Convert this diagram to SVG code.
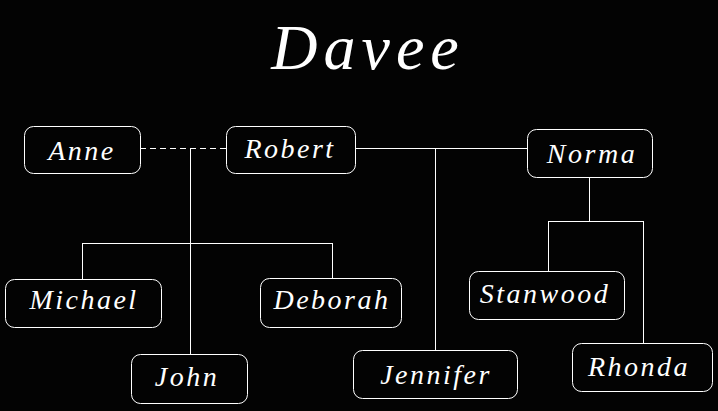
<svg xmlns="http://www.w3.org/2000/svg" width="718" height="411" viewBox="0 0 718 411">
<style>
.box{fill:none;stroke:#fff;stroke-width:1}
.lbl{fill:#fff;font-family:"Liberation Serif",serif;font-style:italic;font-size:28px;letter-spacing:2.5px;text-anchor:middle;dominant-baseline:central}
.ln{fill:none;stroke:#fff;stroke-width:1;shape-rendering:crispEdges}
.title{fill:#fff;font-family:"Liberation Serif",serif;font-style:italic;font-size:64px;letter-spacing:6px;text-anchor:middle}
</style>
<rect width="718" height="411" fill="#030303"/>
<text class="title" x="368" y="69">Davee</text>
<g id="connectors">
<line class="ln" x1="140" y1="148.5" x2="226" y2="148.5" stroke-dasharray="6,4"/>
<line class="ln" x1="190.5" y1="148" x2="190.5" y2="354"/>
<polyline class="ln" points="82.5,279 82.5,243.5 332.5,243.5 332.5,278"/>
<line class="ln" x1="355" y1="148.5" x2="527" y2="148.5"/>
<line class="ln" x1="435.5" y1="148" x2="435.5" y2="350"/>
<line class="ln" x1="589.5" y1="177" x2="589.5" y2="221"/>
<polyline class="ln" points="548.5,271 548.5,221.5 643.5,221.5 643.5,343"/>
</g>
<g id="anne"><rect class="box" x="24.5" y="126.5" width="116" height="47" rx="9"/><text class="lbl" x="82" y="150">Anne</text></g>
<g id="robert"><rect class="box" x="226.5" y="126.5" width="129" height="47" rx="9"/><text class="lbl" x="290" y="148">Robert</text></g>
<g id="norma"><rect class="box" x="527.5" y="129.5" width="125" height="48" rx="9"/><text class="lbl" x="592" y="153">Norma</text></g>
<g id="michael"><rect class="box" x="5.5" y="279.5" width="156" height="48" rx="9"/><text class="lbl" x="84" y="299">Michael</text></g>
<g id="deborah"><rect class="box" x="260.5" y="278.5" width="141" height="49" rx="9"/><text class="lbl" x="332" y="299">Deborah</text></g>
<g id="john"><rect class="box" x="131.5" y="354.5" width="116" height="49" rx="9"/><text class="lbl" x="187" y="376">John</text></g>
<g id="jennifer"><rect class="box" x="353.5" y="350.5" width="164" height="48" rx="9"/><text class="lbl" x="436" y="374">Jennifer</text></g>
<g id="stanwood"><rect class="box" x="469.5" y="271.5" width="155" height="48" rx="9"/><text class="lbl" x="545" y="293">Stanwood</text></g>
<g id="rhonda"><rect class="box" x="572.5" y="343.5" width="140" height="48" rx="9"/><text class="lbl" x="639" y="366">Rhonda</text></g>
</svg>
